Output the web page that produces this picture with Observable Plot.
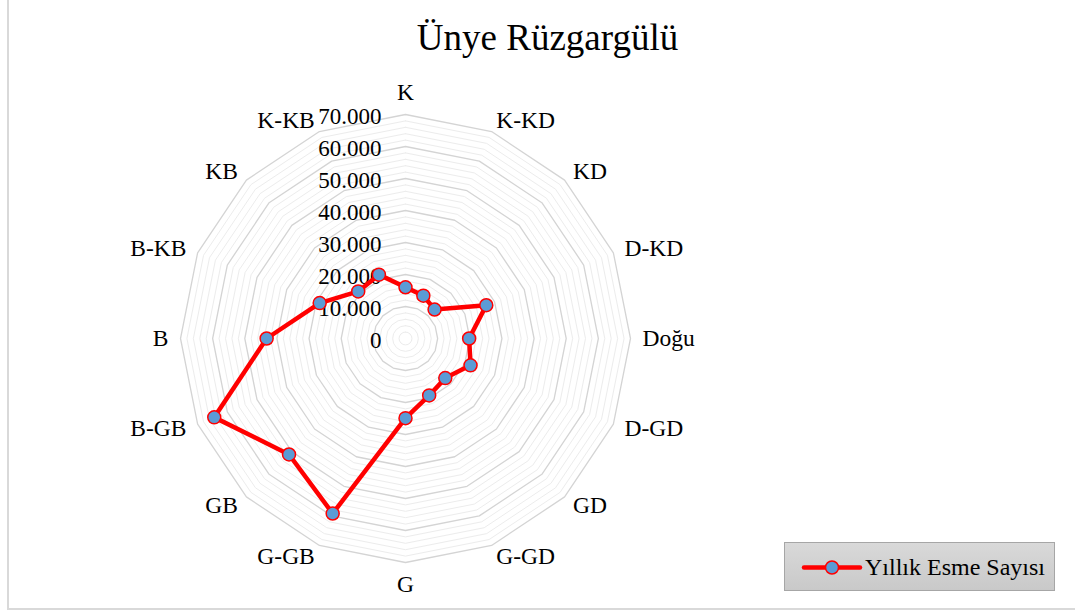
<!DOCTYPE html>
<html>
<head>
<meta charset="utf-8">
<script src="https://cdn.jsdelivr.net/npm/d3@7"></script>
<script src="https://cdn.jsdelivr.net/npm/@observablehq/plot@0.6"></script>
<style>
  html, body { margin: 0; padding: 0; background: #fff; }
  #wrap { position: relative; width: 1075px; height: 614px; overflow: hidden; font-family: "Liberation Serif", "Times New Roman", serif; }
  #wrap svg { position: absolute; left: 0; top: 0; }
  #frame { position: absolute; left: 7px; top: -4px; width: 1080px; height: 614px; border-left: 2px solid #d9d9d9; border-bottom: 2px solid #d9d9d9; box-sizing: border-box; }
  #title { position: absolute; left: 0; width: 1095px; top: 16px; text-align: center; font-size: 37px; color: #000; line-height: 44px; }
  #legend { position: absolute; left: 784px; top: 542px; width: 271px; height: 49px; box-sizing: border-box; border: 1px solid #a6a6a6; background: linear-gradient(#d9d9d9, #c9c9c9); }
  #legend svg { position: absolute; left: 0; top: 0; }
  #legend span { position: absolute; left: 80px; top: 9px; font-size: 24px; line-height: 30px; color: #000; white-space: nowrap; }
</style>
</head>
<body>
<div id="wrap">
  <div id="frame"></div>
  <div id="chart"></div>
  <div id="title"></div>
  <div id="legend"></div>
</div>
<script>
const chartTitle = "Ünye Rüzgargülü";
const seriesName = "Yıllık Esme Sayısı";
const directions = ["K","K-KD","KD","D-KD","Doğu","D-GD","GD","G-GD","G","G-GB","GB","B-GB","B","B-KB","KB","K-KB"];
const values = [16000,14500,12800,27200,19800,21900,17500,19250,24900,59200,51250,64400,43200,28900,20800,21600];
const tickValues = [0,10000,20000,30000,40000,50000,60000,70000];
const tickLabels = ["0","10.000","20.000","30.000","40.000","50.000","60.000","70.000"];
const maxValue = 70000;
const minorStep = 2000;

const n = directions.length;
const ang = i => i * 2 * Math.PI / n;
const px = (v, i) => v * Math.sin(ang(i));
const py = (v, i) => v * Math.cos(ang(i));

// grid rings
const minorRings = [], majorRings = [];
for (let lv = minorStep; lv <= maxValue; lv += minorStep) {
  const target = (lv % 10000 === 0) ? majorRings : minorRings;
  for (let k = 0; k <= n; k++) target.push({level: lv, x: px(lv, k % n), y: py(lv, k % n)});
}

const pts = values.map((v, i) => ({dir: directions[i], x: px(v, i), y: py(v, i)}));
const closed = [...pts, pts[0]];

const labelR = maxValue * 236 / 224;
const lab = directions.map((d, i) => ({text: d, i, x: px(labelR, i), y: py(labelR, i)}));
const labRight = lab.filter(d => d.i > 0 && d.i < n / 2);
const labLeft = lab.filter(d => d.i > n / 2);
const labTop = lab.filter(d => d.i === 0);
const labBottom = lab.filter(d => d.i === n / 2);

const ticks = tickValues.map((v, i) => ({v, t: tickLabels[i]}));

const font = "Liberation Serif, Times New Roman, serif";

const chart = Plot.plot({
  width: 1075,
  height: 614,
  marginLeft: 180,
  marginRight: 445,
  marginTop: 114,
  marginBottom: 52,
  style: {fontFamily: font, background: "transparent"},
  x: {domain: [-maxValue, maxValue], axis: null},
  y: {domain: [-maxValue, maxValue], axis: null},
  marks: [
    Plot.line(minorRings, {x: "x", y: "y", z: "level", stroke: "#ececec", strokeWidth: 1}),
    Plot.line(majorRings, {x: "x", y: "y", z: "level", stroke: "#d4d4d4", strokeWidth: 1.3}),
    Plot.text(ticks, {x: () => 0, y: "v", text: "t", textAnchor: "end", dx: -24, dy: 2, fontSize: 23, fill: "#000"}),
    Plot.text(labRight, {x: "x", y: "y", text: "text", textAnchor: "start", fontSize: 23.5, fill: "#000"}),
    Plot.text(labLeft, {x: "x", y: "y", text: "text", textAnchor: "end", fontSize: 23.5, fill: "#000"}),
    Plot.text(labTop, {x: "x", y: "y", text: "text", textAnchor: "middle", lineAnchor: "bottom", dy: -3, fontSize: 23.5, fill: "#000"}),
    Plot.text(labBottom, {x: "x", y: "y", text: "text", textAnchor: "middle", lineAnchor: "top", dy: 1, fontSize: 23.5, fill: "#000"}),
    Plot.line(closed, {x: "x", y: "y", stroke: "#ff0000", strokeWidth: 4.5, strokeLinejoin: "round"}),
    Plot.dot(pts, {x: "x", y: "y", r: 6.5, fill: "#5b9bd5", stroke: "#ff0000", strokeWidth: 1.5})
  ]
});
document.getElementById("chart").appendChild(chart);
document.getElementById("title").textContent = chartTitle;

const legend = document.getElementById("legend");
legend.innerHTML = `<svg width="271" height="49"><line x1="19" y1="24.5" x2="75" y2="24.5" stroke="#ff0000" stroke-width="4.5" stroke-linecap="round"/><circle cx="47" cy="24.5" r="6.5" fill="#5b9bd5" stroke="#ff0000" stroke-width="1.5"/></svg><span></span>`;
legend.querySelector("span").textContent = seriesName;
</script>
</body>
</html>
